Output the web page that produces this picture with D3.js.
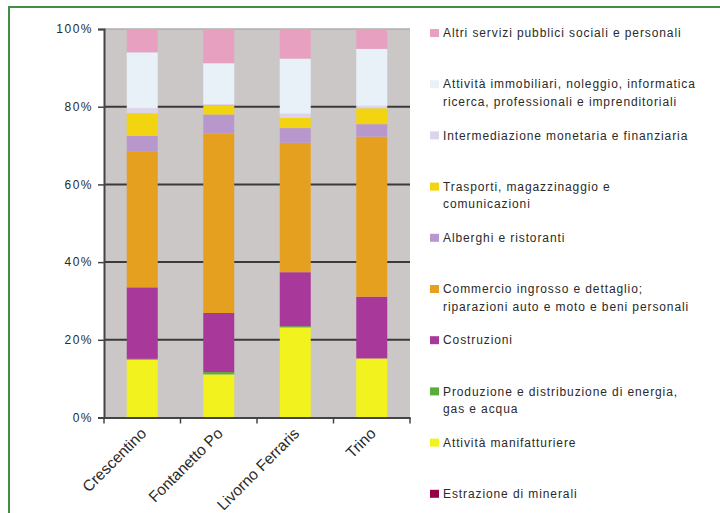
<!DOCTYPE html>
<html>
<head>
<meta charset="utf-8">
<script src="https://cdn.jsdelivr.net/npm/d3@7"></script>
<style>
  html, body { margin: 0; padding: 0; background: #ffffff; }
  svg { display: block; }
  text { font-family: "Liberation Sans", Arial, sans-serif; fill: #2a2a2a; }
</style>
</head>
<body>
<svg id="chart" width="720" height="513"></svg>
<script>
// Comuni
const categories = ["Crescentino", "Fontanetto Po", "Livorno Ferraris", "Trino"];

// Quote percentuali per settore (dal basso verso l'alto nella pila)
const estrazione      = [0.0, 0.0, 0.0, 0.0];
const manifatturiere  = [14.9, 11.1, 23.2, 15.2];
const energia         = [0.2, 0.6, 0.3, 0.0];
const costruzioni     = [18.4, 15.2, 13.9, 15.9];
const commercio       = [34.9, 46.2, 33.3, 41.2];
const alberghi        = [4.1, 4.9, 3.8, 3.2];
const trasporti       = [5.8, 2.4, 2.6, 4.1];
const intermediazione = [1.3, 0.3, 1.1, 0.6];
const immobiliari     = [14.4, 10.5, 14.2, 14.7];
const altriServizi    = [6.0, 8.8, 7.6, 5.1];

const yTicks = [0, 20, 40, 60, 80, 100];
const yTickLabels = ["0%", "20%", "40%", "60%", "80%", "100%"];

// Serie: chiave, valori, colore, righe di legenda
const series = [
  { key: "estrazione", values: estrazione, color: "#980048", label: ["Estrazione di minerali"] },
  { key: "manifatturiere", values: manifatturiere, color: "#f2f21e", label: ["Attività manifatturiere"] },
  { key: "energia", values: energia, color: "#5aac3c", label: ["Produzione e distribuzione di energia,", "gas e acqua"] },
  { key: "costruzioni", values: costruzioni, color: "#a8389a", label: ["Costruzioni"] },
  { key: "commercio", values: commercio, color: "#e6a020", label: ["Commercio ingrosso e dettaglio;", "riparazioni auto e moto e beni personali"] },
  { key: "alberghi", values: alberghi, color: "#b898cc", label: ["Alberghi e ristoranti"] },
  { key: "trasporti", values: trasporti, color: "#f2d410", label: ["Trasporti, magazzinaggio e", "comunicazioni"] },
  { key: "intermediazione", values: intermediazione, color: "#dcd4ec", label: ["Intermediazione monetaria e finanziaria"] },
  { key: "immobiliari", values: immobiliari, color: "#e8f0f8", label: ["Attività immobiliari, noleggio, informatica", "ricerca, professionali e imprenditoriali"] },
  { key: "altri", values: altriServizi, color: "#e8a0c0", label: ["Altri servizi pubblici sociali e personali"] }
];

const svg = d3.select("#chart");

// Cornice verde
svg.append("rect")
  .attr("x", 9).attr("y", 7)
  .attr("width", 730).attr("height", 530)
  .attr("fill", "none")
  .attr("stroke", "#3f8f45")
  .attr("stroke-width", 2);

const plot = { left: 104, right: 410, top: 29, bottom: 417.5 };

const x = d3.scaleBand()
  .domain(categories)
  .range([plot.left, plot.right])
  .padding(0);

const y = d3.scaleLinear()
  .domain([0, 100])
  .range([plot.bottom, plot.top]);

// Tabella per lo stack
const table = categories.map((c, i) => {
  const row = { category: c };
  series.forEach(s => { row[s.key] = s.values[i]; });
  return row;
});
const stacked = d3.stack().keys(series.map(s => s.key))(table);

// Sfondo area del grafico
svg.append("rect")
  .attr("x", plot.left).attr("y", plot.top)
  .attr("width", plot.right - plot.left)
  .attr("height", plot.bottom - plot.top)
  .attr("fill", "#cbc7c7");

// Griglia orizzontale
svg.append("g")
  .selectAll("line")
  .data(yTicks.filter(t => t > 0 && t < 100))
  .join("line")
  .attr("x1", plot.left).attr("x2", plot.right)
  .attr("y1", d => y(d)).attr("y2", d => y(d))
  .attr("stroke", "#3a3a3a")
  .attr("stroke-width", 2);

svg.append("line")
  .attr("x1", plot.left).attr("x2", plot.right)
  .attr("y1", y(100)).attr("y2", y(100))
  .attr("stroke", "#b0acac")
  .attr("stroke-width", 1.5);

// Barre impilate
const barW = x.bandwidth() * 0.405;
const layers = svg.append("g")
  .selectAll("g")
  .data(stacked)
  .join("g")
  .attr("fill", (d, i) => series[i].color);

layers.selectAll("rect")
  .data(d => d)
  .join("rect")
  .attr("x", d => x(d.data.category) + x.bandwidth() / 2 - barW / 2)
  .attr("width", barW)
  .attr("y", d => y(d[1]))
  .attr("height", d => Math.max(0, y(d[0]) - y(d[1])));

// Asse Y
const yAxis = svg.append("g")
  .attr("transform", `translate(${plot.left},0)`)
  .call(d3.axisLeft(y)
    .tickValues(yTicks)
    .tickFormat((d, i) => yTickLabels[i])
    .tickSize(6)
    .tickPadding(5));
yAxis.select(".domain").attr("stroke", "#444").attr("stroke-width", 2);
yAxis.selectAll(".tick line").attr("stroke", "#444").attr("stroke-width", 1.5);
yAxis.selectAll(".tick text")
  .attr("font-size", 12)
  .attr("letter-spacing", "1.5px")
  .attr("font-family", "'Liberation Sans', Arial, sans-serif")
  .attr("fill", "#333");

// Asse X
const xAxis = svg.append("g")
  .attr("transform", `translate(0,${plot.bottom})`)
  .call(d3.axisBottom(x).tickSize(0).tickFormat(""));
xAxis.select(".domain").attr("stroke", "#444").attr("stroke-width", 2);
xAxis.selectAll(".tick").remove();

// Tacche ai confini delle categorie
const bounds = categories.map(c => x(c)).concat([x(categories[categories.length - 1]) + x.bandwidth()]);
svg.append("g")
  .selectAll("line")
  .data(bounds)
  .join("line")
  .attr("x1", d => d).attr("x2", d => d)
  .attr("y1", plot.bottom).attr("y2", plot.bottom + 6)
  .attr("stroke", "#444")
  .attr("stroke-width", 1.5);

// Etichette categorie ruotate
svg.append("g")
  .selectAll("text")
  .data(categories)
  .join("text")
  .attr("transform", d => `translate(${x(d) + x.bandwidth() / 2 + 5},${plot.bottom + 17}) rotate(-45)`)
  .attr("text-anchor", "end")
  .attr("font-family", "Lato, 'Liberation Sans', sans-serif")
  .attr("font-size", 15.5)
  .attr("fill", "#333")
  .text(d => d);

// Legenda (dall'alto: ultima serie della pila)
const legendItems = series.slice().reverse();
const legend = svg.append("g")
  .selectAll("g")
  .data(legendItems)
  .join("g")
  .attr("transform", (d, i) => `translate(430,${33 + i * 51.2})`);

legend.append("rect")
  .attr("x", 0).attr("y", -4)
  .attr("width", 9).attr("height", 8)
  .attr("fill", d => d.color);

legend.append("text")
  .attr("x", 13)
  .attr("font-size", 12)
  .attr("letter-spacing", "0.9px")
  .attr("fill", "#2a2a2a")
  .selectAll("tspan")
  .data(d => d.label)
  .join("tspan")
  .attr("x", 13)
  .attr("y", (d, i) => i * 17.5)
  .attr("dy", "0.35em")
  .text(d => d);
</script>
</body>
</html>
